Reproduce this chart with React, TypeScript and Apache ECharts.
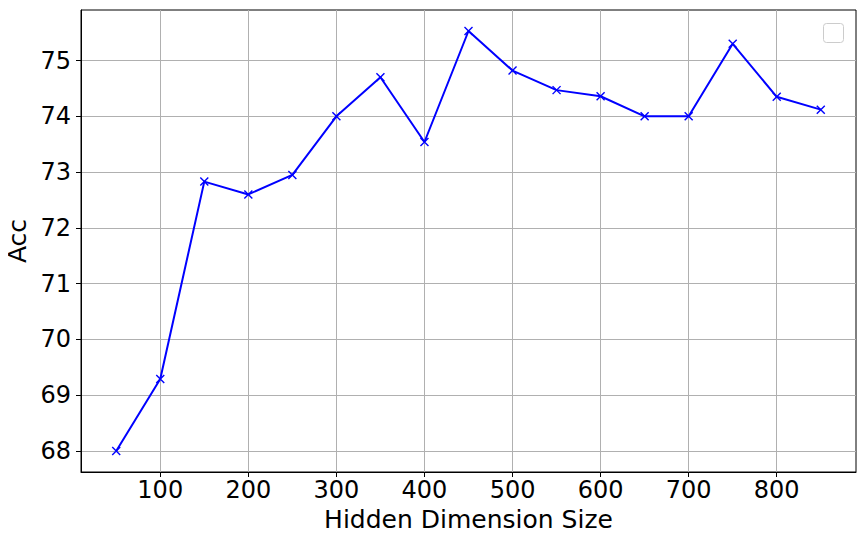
import React, { useEffect, useRef } from "react";
import * as echarts from "echarts";

const hiddenSizes = [50, 100, 150, 200, 250, 300, 350, 400, 450, 500, 550, 600, 650, 700, 750, 800, 850];
const accValues = [68.0, 69.29, 72.83, 72.6, 72.95, 74.0, 74.7, 73.54, 75.53, 74.82, 74.47, 74.36, 74.0, 74.0, 75.3, 74.35, 74.12];
const xTicks = [100, 200, 300, 400, 500, 600, 700, 800];
const yTicks = [68, 69, 70, 71, 72, 73, 74, 75];

const FONT = "DejaVu Sans";

export default function App() {
  const ref = useRef<HTMLDivElement>(null);
  useEffect(() => {
    if (!ref.current) return;
    const chart = echarts.init(ref.current, undefined, { renderer: "svg" });
    const xMin = 10, xMax = 890;
    const yLo = Math.min(...accValues), yHi = Math.max(...accValues);
    const pad = (yHi - yLo) * 0.05;
    chart.setOption({
      animation: false,
      backgroundColor: "#ffffff",
      grid: {
        left: 81, right: 10, top: 10, bottom: 73,
        outerBoundsMode: "none", containLabel: false,
        show: true, borderColor: "#000", borderWidth: 1, backgroundColor: "transparent",
      },
      xAxis: {
        type: "value", min: xMin, max: xMax,
        name: "Hidden Dimension Size", nameLocation: "middle", nameGap: 35,
        nameTextStyle: { fontFamily: FONT, fontSize: 25, color: "#000" },
        axisLine: { show: true, lineStyle: { color: "#000", width: 1 } },
        axisTick: { show: true, inside: false, length: 5, customValues: xTicks, lineStyle: { color: "#000" } },
        axisLabel: { customValues: xTicks, margin: 6, fontFamily: FONT, fontSize: 24, color: "#000" },
        splitLine: { show: true, lineStyle: { color: "#b0b0b0", width: 1 } },
      },
      yAxis: {
        type: "value", min: yLo - pad, max: yHi + pad,
        name: "Acc", nameLocation: "middle", nameGap: 49,
        nameTextStyle: { fontFamily: FONT, fontSize: 25, color: "#000" },
        axisLine: { show: true, lineStyle: { color: "#000", width: 1 } },
        axisTick: { show: true, inside: false, length: 5, customValues: yTicks, lineStyle: { color: "#000" } },
        axisLabel: { customValues: yTicks, margin: 10, fontFamily: FONT, fontSize: 24, color: "#000" },
        splitLine: { show: true, lineStyle: { color: "#b0b0b0", width: 1 } },
      },
      graphic: [
        {
          type: "rect", right: 22, top: 23,
          shape: { width: 20, height: 19, r: 3 },
          style: { fill: "rgba(255,255,255,0.8)", stroke: "#cccccc", lineWidth: 1 },
          z: 100,
        },
      ],
      series: [
        {
          type: "line",
          data: hiddenSizes.map((x, i) => [x, accValues[i]]),
          lineStyle: { color: "#0000ff", width: 2 },
          symbol: "path://M0,0L10,10M10,0L0,10",
          symbolSize: 8,
          showSymbol: true,
          itemStyle: { color: "transparent", borderColor: "#0000ff", borderWidth: 1.4 },
        },
      ],
    });
    return () => chart.dispose();
  }, []);
  return <div ref={ref} style={{ width: 866, height: 545, margin: -8 }} />;
}
